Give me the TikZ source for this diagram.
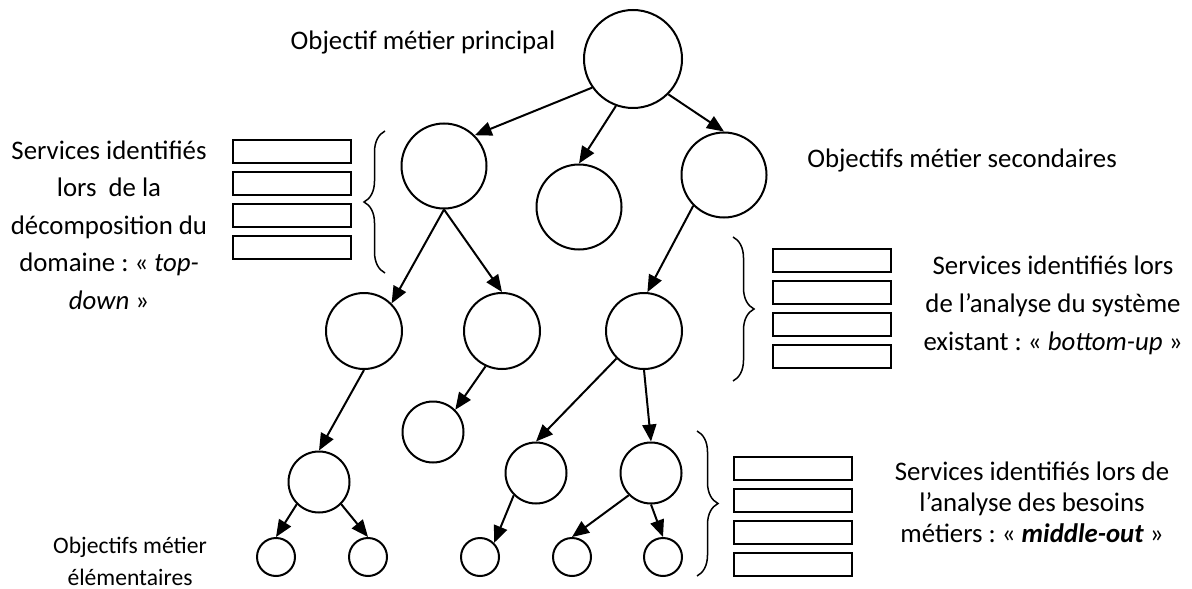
\documentclass[tikz,border=0pt]{standalone}
\usepackage{fontspec}
\setmainfont{Carlito}
\usepackage{tikz}
\usetikzlibrary{arrows.meta,positioning,decorations.pathreplacing}
\frenchspacing

\begin{document}
\begin{tikzpicture}[
  x=0.5pt, y=-0.5pt,
  line width=1pt,
  goal/.style={circle, draw, inner sep=0pt, minimum size=#1},
  service/.style={rectangle, draw, inner sep=0pt, outer sep=0pt, minimum width=59pt, minimum height=11.5pt},
  note/.style={align=center, inner sep=0pt, font=\fontsize{13.4pt}{18.75pt}\selectfont},
  bracket/.style={decorate, decoration={brace, amplitude=10.5pt}, line width=0.75pt},
  >={Triangle[length=8.5pt,width=7pt]},
  node distance=4.5pt
]
\useasboundingbox (0,0) rectangle (1192,588);

% Goals
\node[goal=49pt] (main) at (633,59) {};
\node[goal=42.5pt] (secA) at (444,166) {};
\node[goal=42.5pt] (secB) at (579,207) {};
\node[goal=42.5pt] (secC) at (724,175) {};
\node[goal=38pt] (subD) at (364,331) {};
\node[goal=38pt] (subE) at (502,331) {};
\node[goal=38pt] (subF) at (644,331) {};
\node[goal=30.5pt] (subG) at (433,432) {};
\node[goal=30.5pt] (subM) at (319,482) {};
\node[goal=30.5pt] (subH) at (536,473) {};
\node[goal=30.5pt] (subI) at (651,473) {};
\node[goal=19pt] (leafN) at (276,557) {};
\node[goal=19pt] (leafO) at (368,557) {};
\node[goal=19pt] (leafJ) at (480,557) {};
\node[goal=19pt] (leafK) at (572,557) {};
\node[goal=19pt] (leafL) at (663,557) {};

% Services
\node[service] (td1) at (291.5,151.5) {};
\node[service, below=of td1] (td2) {};
\node[service, below=of td2] (td3) {};
\node[service, below=of td3] (td4) {};
\node[service] (bu1) at (831.5,260.5) {};
\node[service, below=of bu1] (bu2) {};
\node[service, below=of bu2] (bu3) {};
\node[service, below=of bu3] (bu4) {};
\node[service] (mo1) at (793,468.5) {};
\node[service, below=of mo1] (mo2) {};
\node[service, below=of mo2] (mo3) {};
\node[service, below=of mo3] (mo4) {};

% Brackets
\draw[bracket] (385,273) -- (385,131);
\draw[bracket] (733,237) -- (733,381);
\draw[bracket] (697,431) -- (697,576);

% Texts
\node[note] (principal) at (423,42) {Objectif métier principal};
\node[note] (secondaires) at (962,160) {Objectifs métier secondaires};
\node[note] (topdown) at (109,225) {Services identifiés\\lors\ \ de la\\décomposition du\\domaine : « \textit{top-}\\\textit{down} »};
\node[note, font=\fontsize{13.4pt}{19pt}\selectfont] (bottomup) at (1053,305) {Services identifiés lors\\de l’analyse du système\\existant : « \textit{bottom-up} »};
\node[note, font=\fontsize{13.4pt}{15.5pt}\selectfont] (middleout) at (1032,502.5) {Services identifiés lors de\\l’analyse des besoins\\métiers : « \textbf{\textit{middle-out}} »};
\node[note, font=\fontsize{11.8pt}{16pt}\selectfont] (elementaires) at (130,561) {Objectifs métier\\élémentaires};

% Edges
\draw[->] (main.215) -- (secA.45);
\draw[->] (main.250) -- (secB.north);
\draw[->] (main.315) -- (secC.north);
\draw[->] (secA.south) -- (subD.45);
\draw[->] (secA.south) -- (subE.north);
\draw[->] (secC.225) -- (subF.85);
\draw[->] (subD.south) -- (subM.north);
\draw[->] (subE.245) -- (subG.45);
\draw[->] (subF.225) -- (subH.north);
\draw[->] (subF.south) -- (subI.north);
\draw[->] (subM.225) -- (leafN.north);
\draw[->] (subM.315) -- (leafO.north);
\draw[->] (subH.225) -- (leafJ.45);
\draw[->] (subI.225) -- (leafK.north);
\draw[->] (subI.south) -- (leafL.north);

\end{tikzpicture}
\end{document}
